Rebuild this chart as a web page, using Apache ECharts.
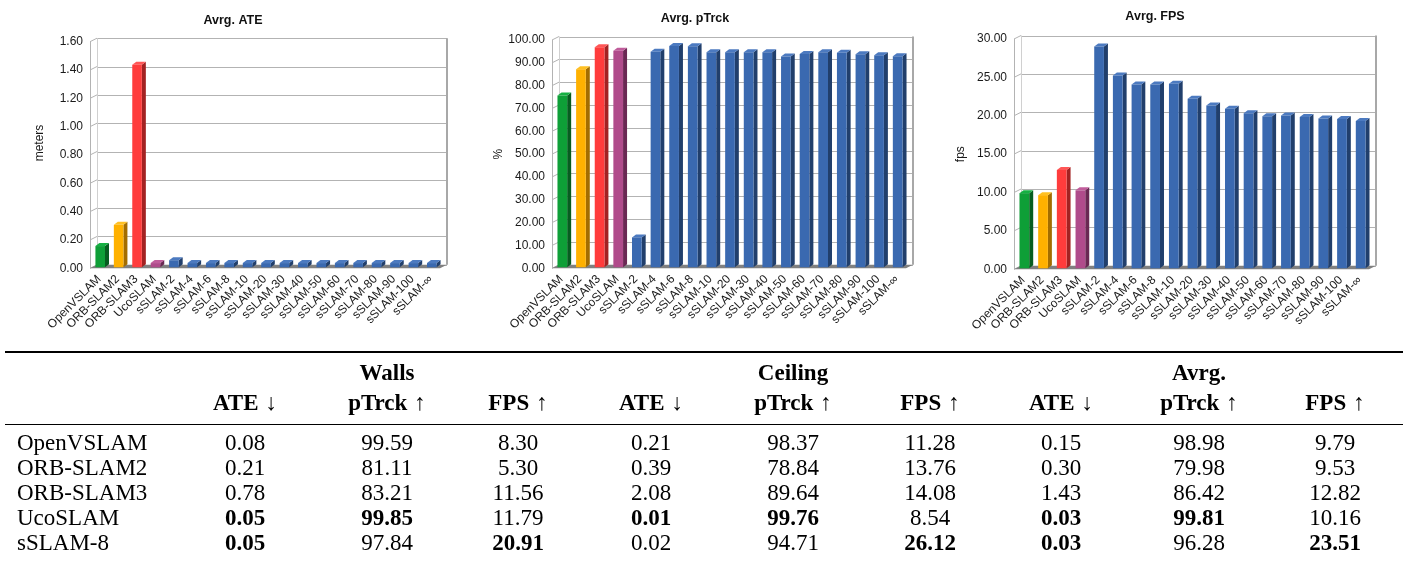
<!DOCTYPE html>
<html>
<head>
<meta charset="utf-8">
<script src="https://cdn.jsdelivr.net/npm/echarts@6/dist/echarts.min.js"></script>
<style>
  html, body { margin: 0; padding: 0; background: #fff; }
  #chart { width: 1408px; height: 581px; }
</style>
</head>
<body>
<div id="chart"></div>
<script>
// ---- chart data ----
const methods = ['OpenVSLAM', 'ORB-SLAM2', 'ORB-SLAM3', 'UcoSLAM', 'sSLAM-2', 'sSLAM-4', 'sSLAM-6', 'sSLAM-8',
  'sSLAM-10', 'sSLAM-20', 'sSLAM-30', 'sSLAM-40', 'sSLAM-50', 'sSLAM-60', 'sSLAM-70', 'sSLAM-80',
  'sSLAM-90', 'sSLAM-100', 'sSLAM-∞'];
const avgATE = [0.15, 0.30, 1.43, 0.03, 0.05, 0.03, 0.03, 0.03, 0.03, 0.03, 0.03, 0.03, 0.03, 0.03, 0.03, 0.03, 0.03, 0.03, 0.03];
const avgPTrck = [75.2, 86.8, 96.4, 94.9, 13.1, 94.4, 96.9, 96.8, 94.2, 94.2, 94.2, 94.2, 92.3, 93.4, 94.2, 94.0, 93.3, 92.9, 92.4];
const avgFPS = [9.79, 9.53, 12.82, 10.16, 28.9, 25.1, 23.95, 23.95, 24.05, 22.1, 21.2, 20.8, 20.2, 19.8, 19.9, 19.7, 19.5, 19.45, 19.2];

const ateTicks = [0, 0.2, 0.4, 0.6, 0.8, 1.0, 1.2, 1.4, 1.6];
const pTrckTicks = [0, 10, 20, 30, 40, 50, 60, 70, 80, 90, 100];
const fpsTicks = [0, 5, 10, 15, 20, 25, 30];

const chartTitles = ['Avrg. ATE', 'Avrg. pTrck', 'Avrg. FPS'];
const axisNames = ['meters', '%', 'fps'];

// ---- table data ----
const tableMethods = ['OpenVSLAM', 'ORB-SLAM2', 'ORB-SLAM3', 'UcoSLAM', 'sSLAM-8'];
const scenarios = ['Walls', 'Ceiling', 'Avrg.'];
const metrics = ['ATE', 'pTrck', 'FPS'];
const metricArrows = ['↓', '↑', '↑'];
const wallsATE = [0.08, 0.21, 0.78, 0.05, 0.05];
const wallsPTrck = [99.59, 81.11, 83.21, 99.85, 97.84];
const wallsFPS = [8.30, 5.30, 11.56, 11.79, 20.91];
const ceilingATE = [0.21, 0.39, 2.08, 0.01, 0.02];
const ceilingPTrck = [98.37, 78.84, 89.64, 99.76, 94.71];
const ceilingFPS = [11.28, 13.76, 14.08, 8.54, 26.12];
const avrgATE = [0.15, 0.30, 1.43, 0.03, 0.03];
const avrgPTrck = [98.98, 79.98, 86.42, 99.81, 96.28];
const avrgFPS = [9.79, 9.53, 12.82, 10.16, 23.51];

// ---- styling / layout ----
const SANS = '"Liberation Sans", Arial, sans-serif';
const SERIF = '"Liberation Serif", "Times New Roman", serif';
const WALL_DX = 7, WALL_DY = 3.5;   // depth of the back wall
const BAR_DX = 4, BAR_DY = 3;       // depth of each bar
const faceSets = [
  { front: '#0e9f37', side: '#075d20', top: '#16b043' },
  { front: '#ffb100', side: '#a36d00', top: '#ffc022' },
  { front: '#ff3c3c', side: '#a32222', top: '#ff5656' },
  { front: '#b04b8b', side: '#6a2853', top: '#c05c9b' },
  { front: '#3a69b0', side: '#213f6c', top: '#4c7ac0' }
];
function faces(i) { return faceSets[Math.min(i, 4)]; }

const plots = [
  { left: 90, top: 41.7, width: 350, height: 226.6, titleX: 233, titleY: 20.5, nameGap: 44, namePad: [0, 0, 0, 24] },
  { left: 552, top: 40, width: 354, height: 228.3, titleX: 695, titleY: 18.7, nameGap: 45, namePad: 0 },
  { left: 1014, top: 39, width: 355, height: 230.3, titleX: 1155, titleY: 17, nameGap: 47, namePad: 0 }
];
const seriesValues = [avgATE, avgPTrck, avgFPS];
const seriesTicks = [ateTicks, pTrckTicks, fpsTicks];

function px(v) { return Math.round(v) + 0.5; }

// back wall, left wall, grid lines and floor of one pseudo-3D plot
function makeWall(ticks) {
  return function (params, api) {
    const cs = params.coordSys;
    const L = cs.x, R = cs.x + cs.width;
    const y0 = api.coord([0, ticks[0]])[1];
    const yT = api.coord([0, ticks[ticks.length - 1]])[1];
    const grey = '#b3b3b3';
    const kids = [];
    kids.push({ type: 'polygon', shape: { points: [[L + WALL_DX, yT - WALL_DY], [R + WALL_DX, yT - WALL_DY], [R + WALL_DX, y0 - WALL_DY], [L + WALL_DX, y0 - WALL_DY]] }, style: { fill: '#fff' } });
    ticks.forEach(function (t) {
      const y = api.coord([0, t])[1];
      kids.push({ type: 'line', shape: { x1: L, y1: y, x2: L + WALL_DX, y2: y - WALL_DY }, style: { stroke: grey, lineWidth: 1 } });
      kids.push({ type: 'line', shape: { x1: L + WALL_DX, y1: px(y - WALL_DY), x2: R + WALL_DX, y2: px(y - WALL_DY) }, style: { stroke: grey, lineWidth: 1 } });
    });
    kids.push({ type: 'line', shape: { x1: px(L), y1: yT, x2: px(L), y2: y0 }, style: { stroke: grey, lineWidth: 1 } });
    kids.push({ type: 'line', shape: { x1: px(L + WALL_DX), y1: yT - WALL_DY, x2: px(L + WALL_DX), y2: y0 - WALL_DY }, style: { stroke: '#d0d0d0', lineWidth: 1 } });
    kids.push({ type: 'line', shape: { x1: R + WALL_DX, y1: yT - WALL_DY, x2: R + WALL_DX, y2: y0 - WALL_DY }, style: { stroke: '#a8a8a8', lineWidth: 2 } });
    kids.push({ type: 'polygon', shape: { points: [[L, y0], [R, y0], [R + WALL_DX, y0 - WALL_DY], [L + WALL_DX, y0 - WALL_DY]] }, style: { fill: '#808080' } });
    return { type: 'group', children: kids };
  };
}

// one extruded bar: front face, right side face and top face
function renderBar(params, api) {
  const i = api.value(0), v = api.value(1);
  const band = api.size([1, 0])[0];
  const w = band * 0.52;
  const base = api.coord([i, 0]);
  const top = api.coord([i, v]);
  const x0 = base[0] - w / 2 + 1, x1 = x0 + w;
  const yb = base[1] - 1, yt = top[1] - 1;
  const c = faces(i);
  return {
    type: 'group',
    children: [
      { type: 'polygon', shape: { points: [[x1, yt], [x1 + BAR_DX, yt - BAR_DY], [x1 + BAR_DX, yb - BAR_DY], [x1, yb]] }, style: { fill: c.side } },
      { type: 'polygon', shape: { points: [[x0, yt], [x0 + BAR_DX, yt - BAR_DY], [x1 + BAR_DX, yt - BAR_DY], [x1, yt]] }, style: { fill: c.top } },
      { type: 'rect', shape: { x: x0, y: yt, width: w, height: yb - yt }, style: { fill: c.front } }
    ]
  };
}

const grids = [], xAxes = [], yAxes = [], series = [], graphics = [];
plots.forEach(function (p, k) {
  const ticks = seriesTicks[k];
  grids.push({ left: p.left, top: p.top, width: p.width, height: p.height });
  xAxes.push({
    type: 'category', gridIndex: k, data: methods,
    axisLine: { show: false }, axisTick: { show: false }, splitLine: { show: false },
    axisLabel: { interval: 0, rotate: 45, margin: 9, fontFamily: SANS, fontSize: 12, color: '#1a1a1a' }
  });
  yAxes.push({
    type: 'value', gridIndex: k,
    min: ticks[0], max: ticks[ticks.length - 1], interval: ticks[1] - ticks[0],
    axisLine: { show: false }, axisTick: { show: false }, splitLine: { show: false },
    axisLabel: { margin: 7, fontFamily: SANS, fontSize: 12, color: '#1a1a1a', formatter: function (v) { return v.toFixed(2); } },
    name: axisNames[k], nameLocation: 'middle', nameRotate: 90, nameGap: p.nameGap,
    nameTextStyle: { fontFamily: SANS, fontSize: 12, color: '#1a1a1a', padding: p.namePad }
  });
  series.push({
    type: 'custom', xAxisIndex: k, yAxisIndex: k, z: 1, silent: true,
    renderItem: makeWall(ticks), data: [[0, 0]]
  });
  series.push({
    type: 'custom', xAxisIndex: k, yAxisIndex: k, z: 2, silent: true,
    renderItem: renderBar, encode: { x: 0, y: 1 },
    data: seriesValues[k].map(function (v, i) { return [i, v]; })
  });
  graphics.push({
    type: 'text', x: p.titleX, y: p.titleY,
    style: { text: chartTitles[k], font: 'bold 12.5px ' + SANS, fill: '#111', align: 'center', verticalAlign: 'middle' }
  });
});

// ---- results table ----
const tableCols = [
  [wallsATE, wallsPTrck, wallsFPS],
  [ceilingATE, ceilingPTrck, ceilingFPS],
  [avrgATE, avrgPTrck, avrgFPS]
];
const colX = [245, 387, 518, 651, 793, 930, 1061, 1199, 1335];
const rowY = [444, 469, 494, 519, 544];
const FONT = '23px ' + SERIF, BFONT = 'bold 23px ' + SERIF;

graphics.push({ type: 'line', shape: { x1: 5, y1: 352, x2: 1403, y2: 352 }, style: { stroke: '#000', lineWidth: 2 } });
graphics.push({ type: 'line', shape: { x1: 5, y1: 424.5, x2: 1403, y2: 424.5 }, style: { stroke: '#000', lineWidth: 1.2 } });

scenarios.forEach(function (s, g) {
  graphics.push({ type: 'text', x: colX[g * 3 + 1], y: 374, style: { text: s, font: BFONT, fill: '#000', align: 'center', verticalAlign: 'middle' } });
  metrics.forEach(function (m, j) {
    graphics.push({
      type: 'text', x: colX[g * 3 + j], y: 404,
      style: {
        text: '{b|' + m + '}{a|' + metricArrows[j] + '}', align: 'center', verticalAlign: 'middle',
        rich: { b: { font: BFONT, fill: '#000' }, a: { font: FONT, fill: '#000', padding: [0, 0, 0, 7] } }
      }
    });
    const col = tableCols[g][j];
    const best = metricArrows[j] === '↓' ? Math.min.apply(null, col) : Math.max.apply(null, col);
    col.forEach(function (v, r) {
      graphics.push({
        type: 'text', x: colX[g * 3 + j], y: rowY[r],
        style: { text: v.toFixed(2), font: v === best ? BFONT : FONT, fill: '#000', align: 'center', verticalAlign: 'middle' }
      });
    });
  });
});
tableMethods.forEach(function (m, r) {
  graphics.push({ type: 'text', x: 17, y: rowY[r], style: { text: m, font: FONT, fill: '#000', align: 'left', verticalAlign: 'middle' } });
});

const chart = echarts.init(document.getElementById('chart'), null, { renderer: 'canvas' });
chart.setOption({
  backgroundColor: '#fff',
  animation: false,
  grid: grids,
  xAxis: xAxes,
  yAxis: yAxes,
  series: series,
  graphic: graphics
});
</script>
</body>
</html>
